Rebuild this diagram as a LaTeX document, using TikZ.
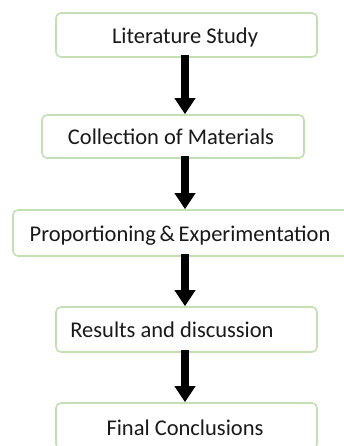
\documentclass[tikz,border=0pt]{standalone}
\usepackage{fontspec}
\setmainfont{Carlito}
\usetikzlibrary{arrows.meta}
\definecolor{boxgreen}{RGB}{196,224,178}
\begin{document}
\begin{tikzpicture}[x=1pt,y=-1pt,
  stepbox/.style={draw=boxgreen,line width=1.6pt,rounded corners=5pt,fill=white,inner sep=0pt},
  lbl/.style={font=\fontsize{22.5}{26}\selectfont,text=black!90,inner sep=0pt,anchor=base},
  bigarrow/.style={line width=8pt,-{Triangle[width=20pt,length=16pt]}}]
\fill[white] (0,0) rectangle (344,446);
\clip (0,0) rectangle (344,446);
\useasboundingbox (0,0) rectangle (344,446);
\coordinate (ax) at (185,0);
\node[stepbox,minimum width=261pt,minimum height=44pt] (b1) at (186.5,35) {};
\node[stepbox,minimum width=262pt,minimum height=43pt] (b2) at (173,136.5) {};
\node[stepbox,minimum width=340pt,minimum height=46pt] (b3) at (183,233) {};
\node[stepbox,minimum width=261pt,minimum height=45pt] (b4) at (186.5,329.5) {};
\node[stepbox,minimum width=261pt,minimum height=46pt] (b5) at (186.5,426) {};
\node[lbl] (t1) at (185,44) {Literature Study};
\node[lbl] (t2) at (171,145) {Collection of Materials};
\node[lbl] (t3) at (180,241) {Proportioning\,\&\,Experimentation};
\node[lbl] (t4) at (172,337) {Results and discussion};
\node[lbl] (t5) at (185,435) {Final Conclusions};
\draw[bigarrow] ([yshift=3pt]b1.south -| ax) -- (b2.north -| ax);
\draw[bigarrow] ([yshift=3pt]b2.south -| ax) -- (b3.north -| ax);
\draw[bigarrow] ([yshift=3pt]b3.south -| ax) -- (b4.north -| ax);
\draw[bigarrow] ([yshift=3pt]b4.south -| ax) -- (b5.north -| ax);
\end{tikzpicture}
\end{document}
